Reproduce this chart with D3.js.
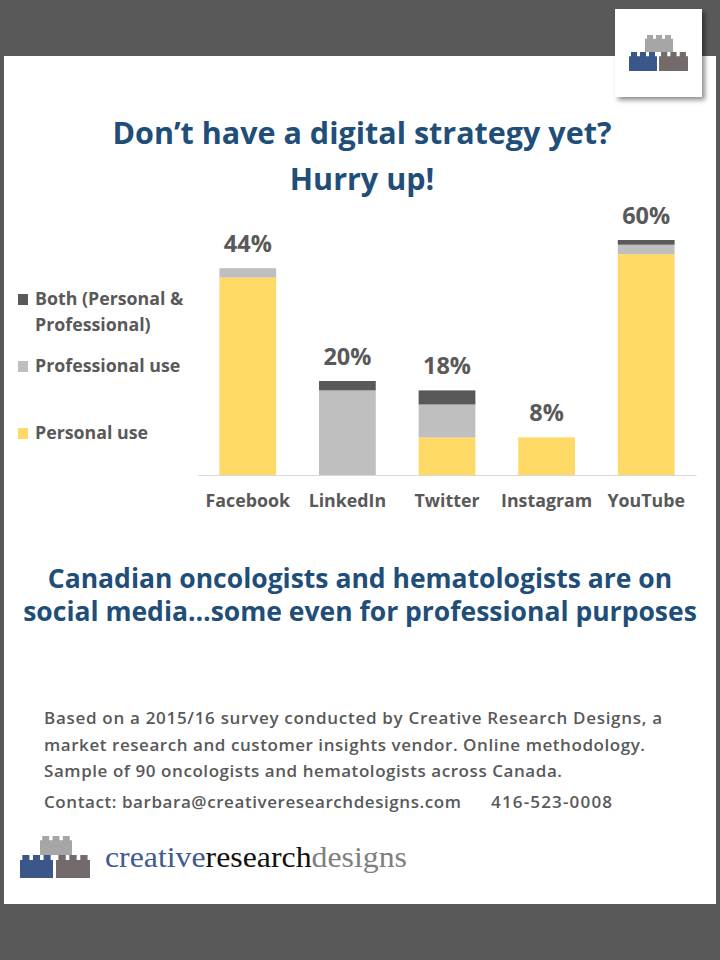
<!DOCTYPE html>
<html>
<head>
<meta charset="utf-8">
<script src="https://cdn.jsdelivr.net/npm/d3@7"></script>
<style>
  body { margin: 0; background: #595959; }
  svg { display: block; }
</style>
</head>
<body>
<svg width="720" height="960"></svg>
<script>
var categories = ["Facebook", "LinkedIn", "Twitter", "Instagram", "YouTube"];
var personal = [42, 0, 8, 8, 47];
var professional = [2, 18, 7, 0, 2];
var both = [0, 2, 3, 0, 1];
var totalLabels = ["44%", "20%", "18%", "8%", "60%"];

var seriesKeys = ["personal", "professional", "both"];
var seriesColors = ["#FFD966", "#BFBFBF", "#595959"];
var legendLabels = [["Both (Personal &", "Professional)"], ["Professional use"], ["Personal use"]];
var legendColors = ["#595959", "#BFBFBF", "#FFD966"];

var titleLines = ["Don\u2019t have a digital strategy yet?", "Hurry up!"];
var subtitleLines = ["Canadian oncologists and hematologists are on",
                     "social media\u2026some even for professional purposes"];
var noteLines = ["Based on a 2015/16 survey conducted by Creative Research Designs, a",
                 "market research and customer insights vendor. Online methodology.",
                 "Sample of 90 oncologists and hematologists across Canada."];
var contactText = "Contact: barbara@creativeresearchdesigns.com";
var phoneText = "416-523-0008";

var rows = categories.map((c, i) => ({
  cat: c, personal: personal[i], professional: professional[i], both: both[i], label: totalLabels[i]
}));

var svg = d3.select("svg");
var font = "'Open Sans', Lato, sans-serif";
var textGrey = "#595959";
var blue = "#1F4E79";

// background + white panel
svg.append("rect").attr("width", 720).attr("height", 960).attr("fill", "#595959");
svg.append("rect").attr("x", 4).attr("y", 56).attr("width", 712).attr("height", 848).attr("fill", "#fff");

// drop shadow for logo box
var defs = svg.append("defs");
var f = defs.append("filter").attr("id", "shadow").attr("x", "-20%").attr("y", "-20%").attr("width", "150%").attr("height", "150%");
f.append("feDropShadow").attr("dx", 3).attr("dy", 3).attr("stdDeviation", 2.5).attr("flood-color", "#000").attr("flood-opacity", 0.45);

svg.append("rect").attr("x", 615).attr("y", 9).attr("width", 87).attr("height", 88)
  .attr("fill", "#fff").attr("filter", "url(#shadow)");

function brick(g, x, y, w, h, color) {
  var sh = h * 0.22, sw = w / 7;
  var p = d3.path();
  p.moveTo(x, y + h);
  p.lineTo(x, y + sh);
  for (var k = 0; k < 3; k++) {
    var sx = x + sw * (0.5 + k * 2.25);
    p.lineTo(sx, y + sh);
    p.lineTo(sx, y);
    p.lineTo(sx + sw * 1.5, y);
    p.lineTo(sx + sw * 1.5, y + sh);
  }
  p.lineTo(x + w, y + sh);
  p.lineTo(x + w, y + h);
  p.closePath();
  g.append("path").attr("d", p.toString()).attr("fill", color);
}

var logoTop = svg.append("g");
brick(logoTop, 645, 35, 28, 17, "#A6A6A6");
brick(logoTop, 629, 52, 28, 19, "#3B5689");
brick(logoTop, 659, 52, 29, 19, "#736B6B");

// title
svg.append("g").selectAll("text").data(titleLines).enter().append("text")
  .attr("x", 362).attr("y", (d, i) => 144 + i * 46)
  .attr("text-anchor", "middle")
  .attr("font-family", font).attr("font-weight", "bold").attr("font-size", 30.5)
  .attr("fill", blue).text(d => d);

// chart
var x = d3.scaleBand().domain(categories).range([198, 696]).paddingInner(0.43).paddingOuter(0.215);
var y = d3.scaleLinear().domain([0, 50]).range([475, 240]);

var stack = d3.stack().keys(seriesKeys)(rows);

svg.append("g").selectAll("g").data(stack).enter().append("g")
  .attr("fill", (d, i) => seriesColors[i])
  .selectAll("rect").data(d => d).enter().append("rect")
  .attr("x", d => x(d.data.cat))
  .attr("width", x.bandwidth())
  .attr("y", d => y(d[1]))
  .attr("height", d => y(d[0]) - y(d[1]));

var xAxis = svg.append("g").attr("transform", "translate(0,475)")
  .call(d3.axisBottom(x).tickSize(0).tickPadding(19));
xAxis.select(".domain").attr("stroke", "#D9D9D9").attr("stroke-width", 1.2);
xAxis.selectAll("text").attr("font-family", font).attr("font-weight", "bold")
  .attr("font-size", 17.8).attr("fill", textGrey);

svg.append("g").selectAll("text").data(rows).enter().append("text")
  .attr("x", d => x(d.cat) + x.bandwidth() / 2)
  .attr("y", d => y(d.personal + d.professional + d.both) - 16)
  .attr("text-anchor", "middle")
  .attr("font-family", font).attr("font-weight", "bold").attr("font-size", 23.5)
  .attr("fill", textGrey).text(d => d.label);

// legend
var legendY = [305, 372, 439];
var legend = svg.append("g").selectAll("g").data(legendLabels).enter().append("g")
  .attr("transform", (d, i) => "translate(18," + legendY[i] + ")");
legend.append("rect").attr("x", 0).attr("y", -11).attr("width", 10).attr("height", 11)
  .attr("fill", (d, i) => legendColors[i]);
legend.append("text").attr("x", 17)
  .attr("font-family", font).attr("font-weight", "bold").attr("font-size", 17.8).attr("fill", textGrey)
  .selectAll("tspan").data(d => d).enter().append("tspan")
  .attr("x", 17).attr("dy", (d, i) => i ? 26 : 0).text(d => d);

// subtitle
svg.append("g").selectAll("text").data(subtitleLines).enter().append("text")
  .attr("x", 360).attr("y", (d, i) => 588 + i * 33)
  .attr("text-anchor", "middle")
  .attr("font-family", font).attr("font-weight", "bold").attr("font-size", 26.5)
  .attr("fill", blue).text(d => d);

// footnote
var noteWidths = [618, 601, 518];
svg.append("g").selectAll("text").data(noteLines).enter().append("text")
  .attr("x", 44).attr("y", (d, i) => 724 + i * 26.5)
  .attr("font-family", font).attr("font-weight", 600).attr("font-size", 17)
  .attr("textLength", (d, i) => noteWidths[i]).attr("lengthAdjust", "spacing")
  .attr("fill", textGrey).text(d => d);
svg.append("text").attr("x", 44).attr("y", 808)
  .attr("font-family", font).attr("font-weight", 600).attr("font-size", 17)
  .attr("textLength", 417).attr("lengthAdjust", "spacing")
  .attr("fill", textGrey).text(contactText);
svg.append("text").attr("x", 491).attr("y", 808)
  .attr("font-family", font).attr("font-weight", 600).attr("font-size", 17)
  .attr("textLength", 121).attr("lengthAdjust", "spacing")
  .attr("fill", textGrey).text(phoneText);

// bottom logo
var logoBottom = svg.append("g");
brick(logoBottom, 40, 836, 32, 19, "#A6A6A6");
brick(logoBottom, 20, 855, 33, 23, "#3B5689");
brick(logoBottom, 56, 855, 34, 23, "#736B6B");

var brand = svg.append("text").attr("x", 105).attr("y", 867)
  .attr("font-family", "'Liberation Serif', 'DejaVu Serif', serif").attr("font-size", 30)
  .attr("textLength", 302).attr("lengthAdjust", "spacingAndGlyphs");
brand.append("tspan").attr("fill", "#3F5B8F").text("creative");
brand.append("tspan").attr("fill", "#111").text("research");
brand.append("tspan").attr("fill", "#7F7F7F").text("designs");
</script>
</body>
</html>
